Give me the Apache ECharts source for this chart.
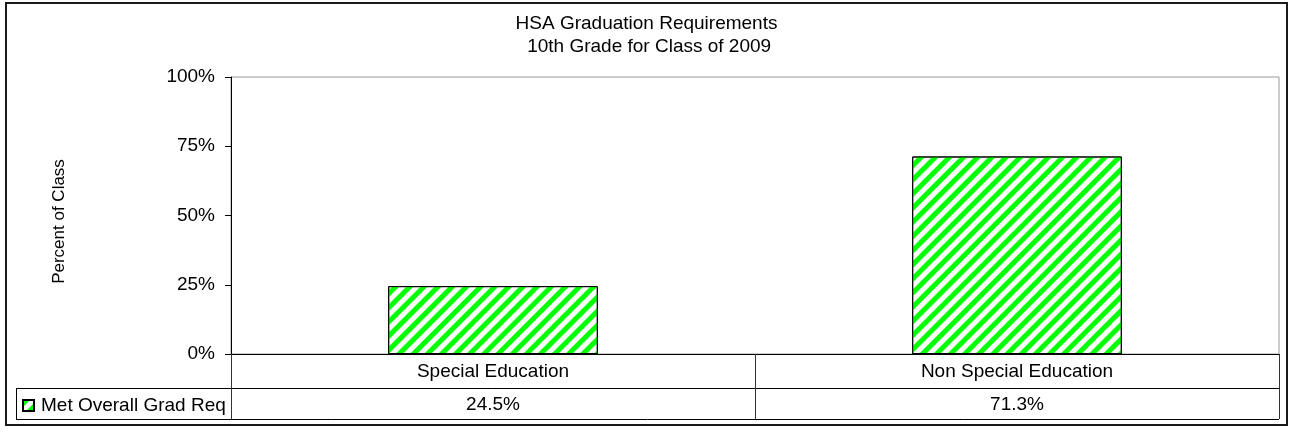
<!DOCTYPE html>
<html>
<head>
<meta charset="utf-8">
<script src="https://cdn.jsdelivr.net/npm/echarts@6/dist/echarts.min.js"></script>
<style>
html,body{margin:0;padding:0;background:#fff;}
#chart{width:1293px;height:435px;}
</style>
</head>
<body>
<div id="chart"></div>
<script>
// ---- data ----
const categories = ['Special Education', 'Non Special Education'];
const seriesName = 'Met Overall Grad Req';
const values = [24.5, 71.3];
const yTicks = [0, 25, 50, 75, 100];
const titleLines = ['HSA Graduation Requirements', ' 10th Grade for Class of 2009'];
const yAxisName = 'Percent of Class';

// ---- layout ----
const W = 1293, H = 435;
const G = { left: 231, top: 77, right: 14, bottom: 81 };
const plotRight = W - G.right;
const axisY = H - G.bottom;
const row1 = 34, row2 = 31;
const tableLeft = 16;
const FONT = '"Liberation Sans", Arial, sans-serif';
const FS = 19;

const chart = echarts.init(document.getElementById('chart'), null, { renderer: 'canvas' });

const stripe = {
  symbol: 'rect',
  symbolSize: 1,
  color: '#00ff00',
  dashArrayX: [1, 0],
  dashArrayY: [5, 5],
  rotation: -Math.PI / 4
};

chart.setOption({
  animation: false,
  backgroundColor: '#fff',
  textStyle: { fontFamily: FONT },
  title: {
    text: titleLines.join('\n'),
    left: 'center',
    top: 7,
    padding: [5, 0, 5, 8],
    textStyle: { fontFamily: FONT, fontSize: FS, fontWeight: 'normal', color: '#000', lineHeight: 23 }
  },
  legend: {
    left: tableLeft + 6,
    top: axisY + row1 + 8,
    padding: 0,
    itemWidth: 11,
    itemHeight: 11,
    itemGap: 5,
    icon: 'rect',
    textStyle: { fontFamily: FONT, fontSize: FS, color: '#000', padding: [0, 0, 0, 2] },
    data: [seriesName]
  },
  grid: {
    left: G.left, top: G.top, right: G.right, bottom: G.bottom,
    show: true, borderColor: '#9a9a9a', borderWidth: 1, backgroundColor: 'transparent'
  },
  xAxis: [{
    type: 'category',
    data: categories,
    position: 'bottom',
    boundaryGap: true,
    axisLine: { lineStyle: { color: '#000', width: 1 } },
    axisTick: { show: true, inside: false, length: row1 + row2, alignWithLabel: false, lineStyle: { color: '#333' } },
    axisLabel: { fontFamily: FONT, fontSize: FS, color: '#000', margin: 8 },
    splitLine: { show: false }
  }, {
    type: 'category',
    data: values.map(v => v.toFixed(1) + '%'),
    position: 'bottom',
    offset: row1,
    boundaryGap: true,
    axisLine: { lineStyle: { color: '#000', width: 1 } },
    axisTick: { show: false },
    axisLabel: { fontFamily: FONT, fontSize: FS, color: '#000', margin: 7 },
    splitLine: { show: false }
  }],
  yAxis: {
    type: 'value',
    min: yTicks[0],
    max: yTicks[yTicks.length - 1],
    interval: yTicks[1] - yTicks[0],
    name: yAxisName,
    nameLocation: 'middle',
    nameGap: 163,
    nameTextStyle: { fontFamily: FONT, fontSize: 17, color: '#000', padding: [0, 12, 0, 0] },
    axisLine: { show: true, lineStyle: { color: '#000', width: 1 } },
    axisTick: { show: true, inside: false, length: 6, lineStyle: { color: '#000' } },
    axisLabel: { fontFamily: FONT, fontSize: FS, color: '#000', margin: 16, formatter: v => v + '%' },
    splitLine: { show: false }
  },
  series: [{
    name: seriesName,
    type: 'bar',
    xAxisIndex: 0,
    data: values,
    barWidth: '40%',
    itemStyle: { color: '#ffffff', borderColor: '#000', borderWidth: 1, decal: stripe },
    emphasis: { disabled: true }
  }],
  graphic: [
    { type: 'rect', shape: { x: 6, y: 3, width: 1281, height: 422 }, style: { fill: null, stroke: '#1a1a1a', lineWidth: 2 }, z: 100 },
    { type: 'line', shape: { x1: tableLeft, y1: axisY + row1 + 0.5, x2: G.left, y2: axisY + row1 + 0.5 }, style: { stroke: '#000', lineWidth: 1 }, z: 100 },
    { type: 'line', shape: { x1: tableLeft, y1: axisY + row1 + row2 + 0.5, x2: plotRight, y2: axisY + row1 + row2 + 0.5 }, style: { stroke: '#000', lineWidth: 1 }, z: 100 },
    { type: 'line', shape: { x1: tableLeft + 0.5, y1: axisY + row1, x2: tableLeft + 0.5, y2: axisY + row1 + row2 }, style: { stroke: '#000', lineWidth: 1 }, z: 100 }
  ]
});
</script>
</body>
</html>
